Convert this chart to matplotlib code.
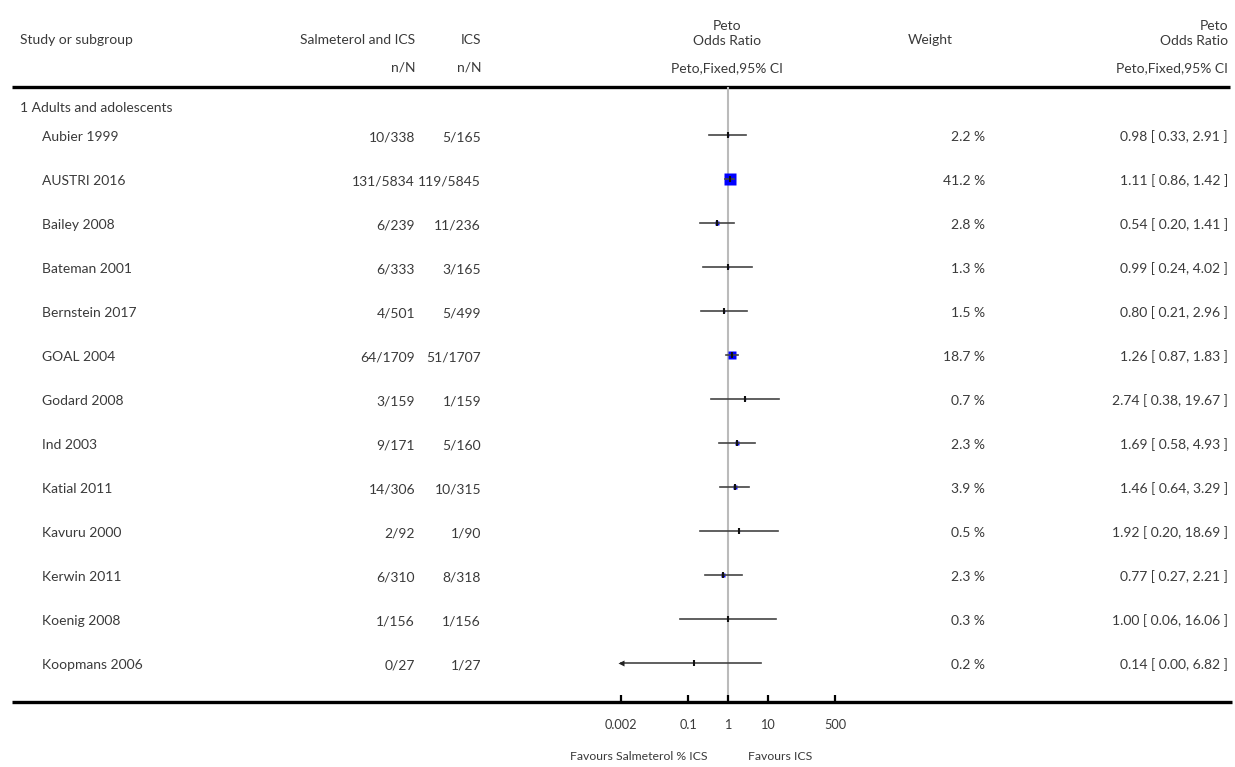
import matplotlib
matplotlib.use("Agg")
import matplotlib.pyplot as plt
import numpy as np

plt.rcParams["font.family"] = ["Lato", "DejaVu Sans"]

studies = ["Aubier 1999", "AUSTRI 2016", "Bailey 2008", "Bateman 2001", "Bernstein 2017",
           "GOAL 2004", "Godard 2008", "Ind 2003", "Katial 2011", "Kavuru 2000",
           "Kerwin 2011", "Koenig 2008", "Koopmans 2006"]
salm = ["10/338", "131/5834", "6/239", "6/333", "4/501", "64/1709", "3/159",
        "9/171", "14/306", "2/92", "6/310", "1/156", "0/27"]
ics = ["5/165", "119/5845", "11/236", "3/165", "5/499", "51/1707", "1/159",
       "5/160", "10/315", "1/90", "8/318", "1/156", "1/27"]
weight = [2.2, 41.2, 2.8, 1.3, 1.5, 18.7, 0.7, 2.3, 3.9, 0.5, 2.3, 0.3, 0.2]
odds = [0.98, 1.11, 0.54, 0.99, 0.80, 1.26, 2.74, 1.69, 1.46, 1.92, 0.77, 1.00, 0.14]
ci_lo = [0.33, 0.86, 0.20, 0.24, 0.21, 0.87, 0.38, 0.58, 0.64, 0.20, 0.27, 0.06, 0.00]
ci_hi = [2.91, 1.42, 1.41, 4.02, 2.96, 1.83, 19.67, 4.93, 3.29, 18.69, 2.21, 16.06, 6.82]

tick_vals = [0.002, 0.1, 1, 10, 500]
tick_labels = ["0.002", "0.1", "1", "10", "500"]

W, H = 1235, 767
txt = "#3a3a3a"
fs = 10

fig = plt.figure(figsize=(W / 100, H / 100), dpi=100)

# table layer in pixel coordinates
tab = fig.add_axes([0, 0, 1, 1])
tab.set_xlim(0, W)
tab.set_ylim(H, 0)
tab.axis("off")

row0, step = 135, 44
top, bottom = 87, 702

def put(x, y, s, ha="left", size=fs):
    tab.text(x, y, s, ha=ha, va="center", fontsize=size, color=txt)

# headers
put(20, 40, "Study or subgroup")
put(415, 40, "Salmeterol and ICS", "right")
put(481, 40, "ICS", "right")
put(415, 68, "n/N", "right")
put(481, 68, "n/N", "right")
put(727, 26, "Peto", "center")
put(727, 41, "Odds Ratio", "center")
put(727, 68, "Peto,Fixed,95% CI", "center")
put(930, 40, "Weight", "center")
put(1228, 26, "Peto", "right")
put(1228, 41, "Odds Ratio", "right")
put(1228, 68, "Peto,Fixed,95% CI", "right")
tab.plot([12, 1230], [top, top], color="black", lw=2.4, solid_capstyle="butt")

put(20, 108, "1 Adults and adolescents")

for i, name in enumerate(studies):
    y = row0 + step * i + 2
    put(42, y, name)
    put(415, y, salm[i], "right")
    put(481, y, ics[i], "right")
    put(985, y, f"{weight[i]:.1f} %", "right")
    put(1228, y, f"{odds[i]:.2f} [ {ci_lo[i]:.2f}, {ci_hi[i]:.2f} ]", "right")

tab.plot([12, 1232], [bottom, bottom], color="black", lw=2.4, solid_capstyle="butt")
put(707, 757, "Favours Salmeterol % ICS", "right", 8.8)
put(748, 757, "Favours ICS", "left", 8.8)

# forest plot layer, log scale
x0, x1 = 621, 835
fp = fig.add_axes([x0 / W, (H - bottom) / H, (x1 - x0) / W, (bottom - top) / H])
fp.patch.set_alpha(0)
fp.set_xscale("log")
fp.set_xlim(tick_vals[0], tick_vals[-1])
fp.set_ylim((bottom - row0) / step, (top - row0) / step)
for s in ["top", "right", "left", "bottom"]:
    fp.spines[s].set_visible(False)
fp.set_yticks([])
fp.set_xticks(tick_vals)
fp.set_xticklabels(tick_labels)
fp.minorticks_off()
fp.tick_params(axis="x", direction="in", length=5, width=1.6, color="black",
               pad=12, labelsize=9.2, labelcolor=txt)

fp.axvline(1, color="#bbbbbb", lw=1.5, zorder=1)

xmin = tick_vals[0]
for i in range(len(studies)):
    side = 2.0 * np.sqrt(weight[i]) * 0.72
    fp.plot(odds[i], i, marker="s", ms=side, mfc="#0000ff", mec="none", zorder=2)
    lo = max(ci_lo[i], xmin)
    fp.plot([lo, ci_hi[i]], [i, i], color="#444444", lw=1.2, zorder=3, clip_on=False)
    if ci_lo[i] < xmin:
        fp.plot(lo, i, marker="<", ms=4, color="#222222", mec="none", zorder=3, clip_on=False)
    fp.plot(odds[i], i, marker="|", ms=5, mew=1.5, color="#111111", zorder=4)

fig.savefig("out.png", dpi=100, facecolor="white")
